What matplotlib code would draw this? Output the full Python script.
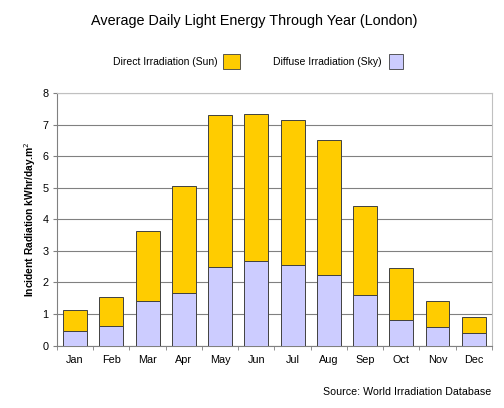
import numpy as np
import matplotlib
matplotlib.use("Agg")
import matplotlib.pyplot as plt
from matplotlib.patches import Rectangle

plt.rcParams['font.family'] = ['Liberation Sans', 'DejaVu Sans']

months = ['Jan', 'Feb', 'Mar', 'Apr', 'May', 'Jun',
          'Jul', 'Aug', 'Sep', 'Oct', 'Nov', 'Dec']
# kWhr/day.m2
diffuse = [0.46, 0.63, 1.42, 1.68, 2.50, 2.68, 2.54, 2.23, 1.60, 0.80, 0.58, 0.39]
total = [1.13, 1.53, 3.63, 5.04, 7.30, 7.35, 7.14, 6.50, 4.41, 2.45, 1.42, 0.89]
direct = [t - d for t, d in zip(total, diffuse)]

SUN = '#FFCC00'
SKY = '#CCCCFF'
EDGE = '#404040'

fig = plt.figure(figsize=(5.04, 4.08), dpi=100)
ax = fig.add_axes([0.113, 0.153, 0.863, 0.619])

x = np.arange(len(months))
ax.bar(x, diffuse, width=0.66, color=SKY, edgecolor=EDGE, linewidth=0.7, zorder=3)
ax.bar(x, direct, width=0.66, bottom=diffuse, color=SUN, edgecolor=EDGE,
       linewidth=0.7, zorder=3)

ax.set_xlim(-0.5, len(months) - 0.5)
ax.set_ylim(0, 8)
ax.set_yticks(range(9))
ax.yaxis.grid(True, color='#808080', linewidth=0.8, zorder=0)
ax.set_xticks(x)
ax.set_xticklabels(months, fontsize=7.8)
ax.tick_params(axis='x', length=0, pad=7)
ax.set_xticks(np.arange(-0.5, len(months)), minor=True)
ax.tick_params(axis='x', which='minor', length=3, color='#808080', direction='out')
ax.tick_params(axis='y', labelsize=7.8, length=3, color='#808080', pad=3)

for side in ['top', 'right']:
    ax.spines[side].set_color('#c0c0c0')
    ax.spines[side].set_linewidth(0.8)
for side in ['left', 'bottom']:
    ax.spines[side].set_color('#808080')
    ax.spines[side].set_linewidth(0.8)

ax.set_ylabel('Incident Radiation kWhr/day.m$^2$', fontsize=7.4,
              fontweight='bold', labelpad=3)

fig.text(0.505, 0.948, 'Average Daily Light Energy Through Year (London)',
         ha='center', va='center', fontsize=10.4)

# legend drawn as text + swatch, like the original
fig.text(0.432, 0.848, 'Direct Irradiation (Sun)', ha='right', va='center', fontsize=7.5)
fig.patches.append(Rectangle((0.443, 0.830), 0.034, 0.037, transform=fig.transFigure,
                             facecolor=SUN, edgecolor=EDGE, linewidth=0.6))
fig.text(0.758, 0.848, 'Diffuse Irradiation (Sky)', ha='right', va='center', fontsize=7.5)
fig.patches.append(Rectangle((0.772, 0.830), 0.028, 0.037, transform=fig.transFigure,
                             facecolor=SKY, edgecolor=EDGE, linewidth=0.6))

fig.text(0.975, 0.040, 'Source: World Irradiation Database', ha='right', va='center',
         fontsize=7.7)

fig.savefig('out.png', dpi=100)
